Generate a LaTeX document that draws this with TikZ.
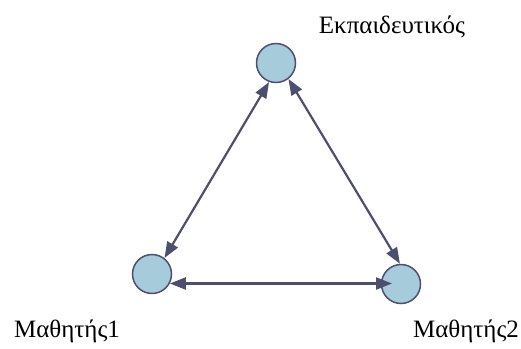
\documentclass[tikz,border=0pt]{standalone}
\usepackage{fontspec}
\setmainfont{Liberation Serif}
\definecolor{NodeBlue}{HTML}{A6CCDB}
\definecolor{EdgeSlate}{HTML}{4E4E70}
\usetikzlibrary{arrows.meta}
\tikzset{
  actor/.style={circle, draw=EdgeSlate, line width=1.5pt, fill=NodeBlue, minimum size=39pt, inner sep=0pt},
  actorlabel/.style={font=\fontsize{25}{30}\selectfont, inner sep=0pt},
  link/.style={{Triangle[length=16pt, width=12pt]}-{Triangle[length=16pt, width=12pt]}, line width=2.2pt, draw=EdgeSlate}
}
\begin{document}
\begin{tikzpicture}[x=1pt, y=-1pt]
\useasboundingbox (0,0) rectangle (521,348);
\node[actor] (teacher) at (276,63) {};
\node[actor] (pupil1) at (152,274) {};
\node[actor] (pupil2) at (401,284) {};
\node[actorlabel, anchor=base] (teacherlbl) at (392,33) {Εκπαιδευτικός};
\node[actorlabel, anchor=base] (pupil1lbl) at (67,337) {Μαθητής1};
\node[actorlabel, anchor=base] (pupil2lbl) at (466,337) {Μαθητής2};
\draw[link] (teacher.-110) -- (pupil1.52);
\draw[link] (teacher.-52) -- (pupil2.93);
\draw[link, shorten >=9pt] (pupil1.-28) -- (pupil1.-28 -| pupil2.center);
\end{tikzpicture}
\end{document}
